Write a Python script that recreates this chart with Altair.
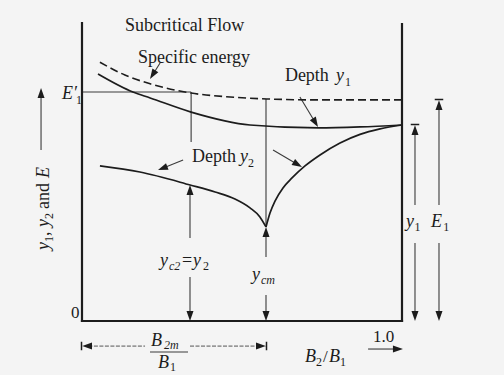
import math
import altair as alt
import pandas as pd

# ---------------------------------------------------------------------------
# Subcritical flow through a width contraction: x = B2/B1, levels in depth units
# ---------------------------------------------------------------------------
energy_x = [0.056, 0.134, 0.213, 0.341, 0.463, 0.578, 0.744, 1.0]
energy_E = [1.320, 1.255, 1.210, 1.163, 1.143, 1.133, 1.128, 1.128]

depth1_x = [0.050, 0.159, 0.213, 0.341, 0.525, 0.738, 0.869, 1.0]
depth1_y = [1.260, 1.168, 1.138, 1.066, 1.000, 0.985, 0.990, 1.000]

depth2_left_x = [0.056, 0.181, 0.338, 0.416, 0.478, 0.525, 0.556, 0.575]
depth2_left_y = [0.791, 0.760, 0.694, 0.658, 0.622, 0.577, 0.531, 0.480]

depth2_right_x = [0.575, 0.5875, 0.6031, 0.6281, 0.6563, 0.6969, 0.7438,
                  0.8063, 0.8688, 0.9313, 1.0]
depth2_right_y = [0.480, 0.551, 0.612, 0.679, 0.730, 0.791, 0.847,
                  0.908, 0.952, 0.980, 1.0]

# key levels
B2M = 0.575        # limiting contraction B2m/B1
YCM = 0.480        # critical depth at B2m
Y1 = 1.0           # upstream depth
E1 = 1.128         # upstream specific energy
E1P = 1.168        # E'1 level
X_E1P = 0.341
Y_C2_X = 0.3375
Y_C2 = 0.694

# view window in data units
X_DOMAIN = [-0.25625, 1.31875]
Y_DOMAIN = [-0.27551, 1.63776]
W, H = 504, 375
PX_X = W / (X_DOMAIN[1] - X_DOMAIN[0])
PX_Y = H / (Y_DOMAIN[1] - Y_DOMAIN[0])

INK = "#1c1c1c"
THIN = "#3a3a3a"
FONT = "Liberation Serif"

xs = alt.Scale(domain=X_DOMAIN, nice=False, zero=False)
ys = alt.Scale(domain=Y_DOMAIN, nice=False, zero=False)


def enc_xy(**extra):
    return dict(
        x=alt.X("x:Q", scale=xs, axis=None),
        y=alt.Y("y:Q", scale=ys, axis=None),
        **extra,
    )


# ---------------------------------------------------------------- curves
curves = pd.concat(
    [
        pd.DataFrame({"x": depth1_x, "y": depth1_y, "s": "y1"}),
        pd.DataFrame({"x": depth2_left_x, "y": depth2_left_y, "s": "y2a"}),
        pd.DataFrame({"x": depth2_right_x, "y": depth2_right_y, "s": "y2b"}),
    ]
)
energy = pd.DataFrame({"x": energy_x, "y": energy_E})

solid = alt.Chart(curves).mark_line(
    color=INK, strokeWidth=1.7, interpolate="monotone"
).encode(**enc_xy(detail="s:N"))
dashed = alt.Chart(energy).mark_line(
    color=INK, strokeWidth=1.6, strokeDash=[8, 4], interpolate="monotone"
).encode(**enc_xy())

# ---------------------------------------------------------------- arrows
# pointer arrows: (start, tip)
pointer_start = [(0.244, 1.316), (0.681, 1.143), (0.316, 0.821), (0.597, 0.872)]
pointer_tip = [(0.2125, 1.235), (0.7375, 0.990), (0.2375, 0.770), (0.6875, 0.786)]

HEAD = 5.0  # half length of an arrowhead in px


def heading(sx, sy, tx, ty):
    dx = (tx - sx) * PX_X
    dy = -(ty - sy) * PX_Y
    return math.degrees(math.atan2(dx, -dy)) % 360


def head_center(tx, ty, ang):
    a = math.radians(ang)
    return tx - HEAD * math.sin(a) / PX_X, ty - HEAD * math.cos(a) / PX_Y


heads_plain = []
heads_bar = []
segs_thin = []

for (sx, sy), (tx, ty) in zip(pointer_start, pointer_tip):
    ang = heading(sx, sy, tx, ty)
    cx, cy = head_center(tx, ty, ang)
    heads_plain.append((cx, cy, ang))
    segs_thin.append((sx, sy, cx, cy))

# dimension arrows: (x, tip y, angle, barred)
dim_heads = [
    (Y_C2_X, Y_C2, 0, False), (Y_C2_X, 0.0, 180, False),
    (B2M, YCM, 0, False), (B2M, 0.0, 180, False),
    (1.0406, Y1, 0, True), (1.0406, 0.0, 180, False),
    (1.1156, E1, 0, True), (1.1156, 0.0, 180, False),
    (-0.128, 1.189, 0, False),
]
for x, ty, ang, bar in dim_heads:
    cx, cy = head_center(x, ty, ang)
    (heads_bar if bar else heads_plain).append((cx, cy, ang))

# horizontal arrows under the axis: (tip x, y, angle, barred)
for tx, y, ang, bar in [(0.0, -0.128, 270, True), (B2M, -0.128, 90, True),
                        (1.003, -0.143, 90, False)]:
    cx, cy = head_center(tx, y, ang)
    (heads_bar if bar else heads_plain).append((cx, cy, ang))

segs_thin += [
    (0.0, E1P, X_E1P, E1P),
    (X_E1P, E1P, X_E1P, 0.913),
    (B2M, 1.133, B2M, YCM),
    (Y_C2_X, 0.643, Y_C2_X, 0.4235), (Y_C2_X, 0.2245, Y_C2_X, 0.03),
    (B2M, 0.429, B2M, 0.3265), (B2M, 0.1327, B2M, 0.03),
    (1.0406, 0.95, 1.0406, 0.5918), (1.0406, 0.398, 1.0406, 0.03),
    (1.1156, 1.08, 1.1156, 0.5918), (1.1156, 0.398, 1.1156, 0.03),
    (-0.128, 0.8724, -0.128, 1.15),
    (0.894, -0.143, 0.99, -0.143),
    (0.2125, -0.158, 0.3313, -0.158),
]
segs_axis = [(0.0, 0.0, 0.0, 1.520), (1.0, 0.0, 1.0, 1.515), (0.0, 0.0, 1.0, 0.0)]
segs_dim = [(0.02, -0.128, 0.197, -0.128), (0.3375, -0.128, 0.555, -0.128)]


def seg_layer(rows, color, width, dash=None, cap="butt"):
    df = pd.DataFrame(rows, columns=["x", "y", "x2", "y2"])
    kw = dict(color=color, strokeWidth=width, strokeCap=cap)
    if dash:
        kw["strokeDash"] = dash
    return alt.Chart(df).mark_rule(**kw).encode(
        **enc_xy(x2="x2:Q", y2="y2:Q")
    )


TRI = "M0,-1L0.7,1L-0.7,1Z"
TRI_BAR = "M-0.85,-1.25L0.85,-1.25L0.85,-0.95L-0.85,-0.95ZM0,-0.95L0.7,1L-0.7,1Z"


def head_layer(rows, shape):
    df = pd.DataFrame(rows, columns=["x", "y", "a"])
    return alt.Chart(df).mark_point(
        shape=shape, filled=True, size=100, color=INK, opacity=1, strokeWidth=0
    ).encode(**enc_xy(angle=alt.Angle("a:Q", scale=None)))


# ---------------------------------------------------------------- labels
# (text, x, baseline y, font size, angle)
labels_roman = [
    ("Subcritical Flow", 0.134, 1.480, 18, 0),
    ("Specific energy", 0.175, 1.316, 18, 0),
    ("Depth", 0.634, 1.224, 18, 0),
    ("1", 0.822, 1.199, 12, 0),
    ("Depth", 0.344, 0.811, 18, 0),
    ("2", 0.519, 0.786, 12, 0),
    ("1", -0.019, 1.107, 12, 0),
    ("0", -0.034, 0.015, 17, 0),
    ("=", 0.3125, 0.281, 18, 0),
    ("2", 0.378, 0.260, 12, 0),
    ("1", 1.039, 0.459, 12, 0),
    ("1", 1.129, 0.459, 12, 0),
    ("1.0", 0.909, -0.107, 17, 0),
    ("2", 0.731, -0.230, 12, 0),
    ("/", 0.753, -0.209, 17, 0),
    ("1", 0.806, -0.230, 12, 0),
    ("1", 0.275, -0.255, 12, 0),
    ("1", -0.0906, 0.4031, 12, 270),
    (",", -0.1031, 0.4337, 18, 270),
    ("2", -0.0906, 0.5204, 12, 270),
    ("and", -0.1031, 0.5714, 18, 270),
]
labels_italic = [
    ("y", 0.794, 1.224, 18, 0),
    ("y", 0.494, 0.811, 18, 0),
    ("E\u2032", -0.0625, 1.133, 18, 0),
    ("y", 0.244, 0.281, 18, 0),
    ("c2", 0.272, 0.260, 12, 0),
    ("y", 0.347, 0.281, 18, 0),
    ("y", 0.531, 0.209, 18, 0),
    ("cm", 0.559, 0.189, 12, 0),
    ("y", 1.0125, 0.480, 18, 0),
    ("E", 1.0906, 0.480, 18, 0),
    ("B", 0.2156, -0.128, 18, 0),
    ("2m", 0.2563, -0.143, 12, 0),
    ("B", 0.2375, -0.240, 18, 0),
    ("B", 0.697, -0.209, 18, 0),
    ("B", 0.772, -0.209, 18, 0),
    ("y", -0.1031, 0.3622, 18, 270),
    ("y", -0.1031, 0.4796, 18, 270),
    ("E", -0.1031, 0.7296, 18, 270),
]


def text_layer(rows, style):
    df = pd.DataFrame(rows, columns=["t", "x", "y", "fs", "a"])
    return alt.Chart(df).mark_text(
        font=FONT, fontStyle=style, align="left", baseline="alphabetic", color=INK
    ).encode(
        **enc_xy(
            text="t:N",
            size=alt.Size("fs:Q", scale=None),
            angle=alt.Angle("a:Q", scale=None),
        )
    )


chart = alt.layer(
    seg_layer(segs_dim, "#555555", 1, dash=[4, 1.5]),
    seg_layer(segs_thin, THIN, 1.1),
    dashed,
    solid,
    seg_layer(segs_axis, INK, 2.2, cap="square"),
    head_layer(heads_plain, TRI),
    head_layer(heads_bar, TRI_BAR),
    text_layer(labels_roman, "normal"),
    text_layer(labels_italic, "italic"),
).properties(
    width=W, height=H, padding=0, autosize="none", background="#f4f4f4"
).configure_view(stroke=None)

chart.save("out.html", embed_options={"renderer": "svg", "actions": False})
